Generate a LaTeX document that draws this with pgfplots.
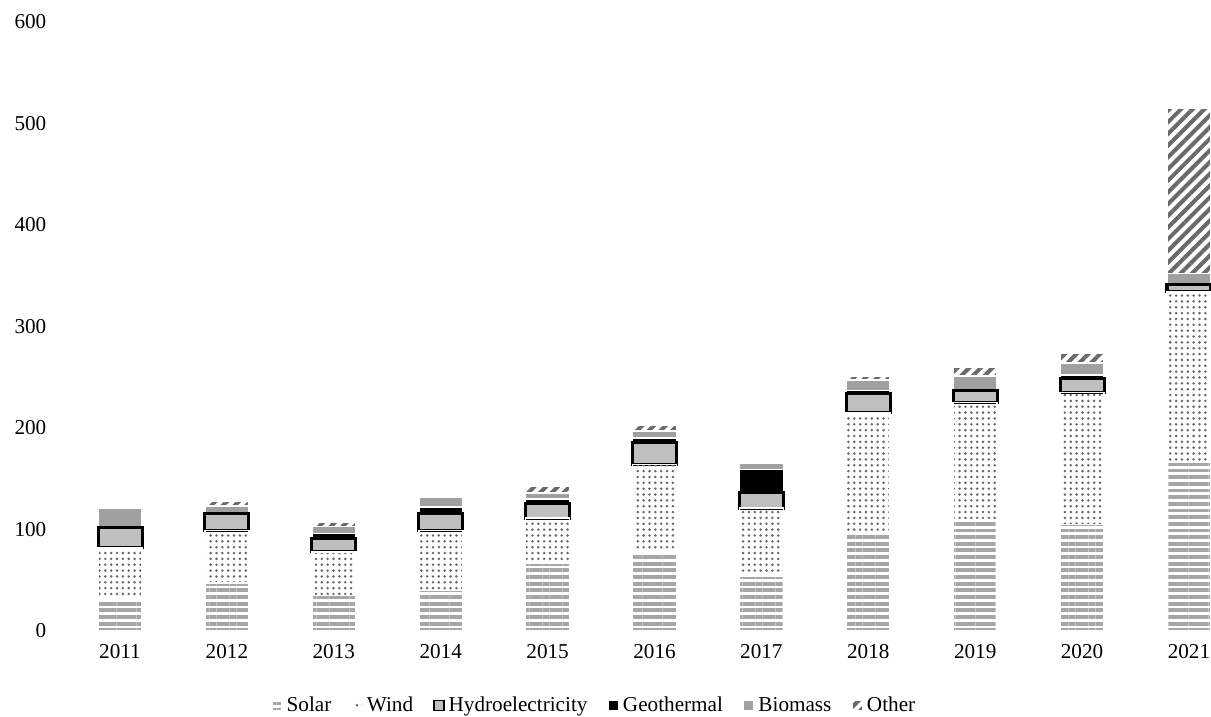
\documentclass[border=0pt]{standalone}
\usepackage{pgfplots}
\pgfplotsset{compat=1.18}
\usepackage{fontspec}
\setmainfont{Liberation Serif}
\usetikzlibrary{patterns.meta}
\definecolor{solargray}{RGB}{166,166,166}
\definecolor{windgray}{RGB}{105,105,105}
\definecolor{hydrogray}{RGB}{191,191,191}
\definecolor{biogray}{RGB}{160,160,160}
\definecolor{othergray}{RGB}{105,105,105}
\begin{document}
\begin{tikzpicture}
\begin{axis}[
  scale only axis,
  width=567.2pt, height=301.8pt,
  ybar stacked, bar width=21.8pt,
  xmin=-0.5, xmax=10.206, ymin=0, ymax=600,
  xtick={0,1,2,3,4,5,6,7,8,9,10},
  xticklabels={2011,2012,2013,2014,2015,2016,2017,2018,2019,2020,2021},
  ytick={0,100,200,300,400,500,600},
  axis line style={draw=none},
  tick style={draw=none},
  major tick length=0pt,
  ticklabel style={font=\fontsize{10.5}{12}\selectfont},
  yticklabel style={xshift=-6.5pt},
  xticklabel style={yshift=-3pt},
  /pgf/number format/assume math mode=true,
  legend style={at={(0.462,-0.123)}, anchor=center, draw=none,
    font=\fontsize{10.5}{12}\selectfont, legend columns=6,
    /tikz/every even column/.append style={column sep=8pt}},
  legend image code/.code={\draw[#1, line width=0.6pt] (0pt,-2.5pt) rectangle (5pt,2.5pt);},
]
\addplot[draw=white, line width=0.8pt, pattern={Lines[angle=0,distance=3.3pt,line width=1.9pt]}, pattern color=solargray]
 coordinates {(0,32) (1,47) (2,35) (3,40) (4,67) (5,78) (6,54) (7,95) (8,109) (9,105) (10,166)};
\addplot[draw=white, line width=0.8pt, pattern={Dots[radius=0.7pt,distance=2.9pt]}, pattern color=windgray]
 coordinates {(0,50) (1,52) (2,43) (3,59) (4,44) (5,86) (6,67) (7,120) (8,116) (9,130) (10,168)};
\addplot[draw=black, line width=1.5pt, fill=hydrogray]
 coordinates {(0,20) (1,17) (2,13) (3,17) (4,15) (5,22) (6,15) (7,19) (8,12) (9,14) (10,7)};
\addplot[draw=white, line width=0.8pt, fill=black]
 coordinates {(0,0) (1,0) (2,5) (3,6) (4,4) (5,4) (6,23) (7,3) (8,0) (9,3) (10,0)};
\addplot[draw=white, line width=0.8pt, fill=biogray]
 coordinates {(0,19) (1,7) (2,7) (3,10) (4,6) (5,7) (6,6) (7,10) (8,14) (9,12) (10,11)};
\addplot[draw=white, line width=0.8pt, pattern={Lines[angle=45,distance=4.1pt,line width=2pt]}, pattern color=othergray]
 coordinates {(0,0) (1,5) (2,4) (3,0) (4,7) (5,6) (6,0) (7,4) (8,9) (9,10) (10,163)};
\legend{Solar,Wind,Hydroelectricity,Geothermal,Biomass,Other}
\end{axis}
\pgfresetboundingbox
\path ([xshift=-33pt,yshift=-42.6pt]current axis.south west) rectangle ([yshift=10.9pt]current axis.north east);
\end{tikzpicture}
\end{document}
